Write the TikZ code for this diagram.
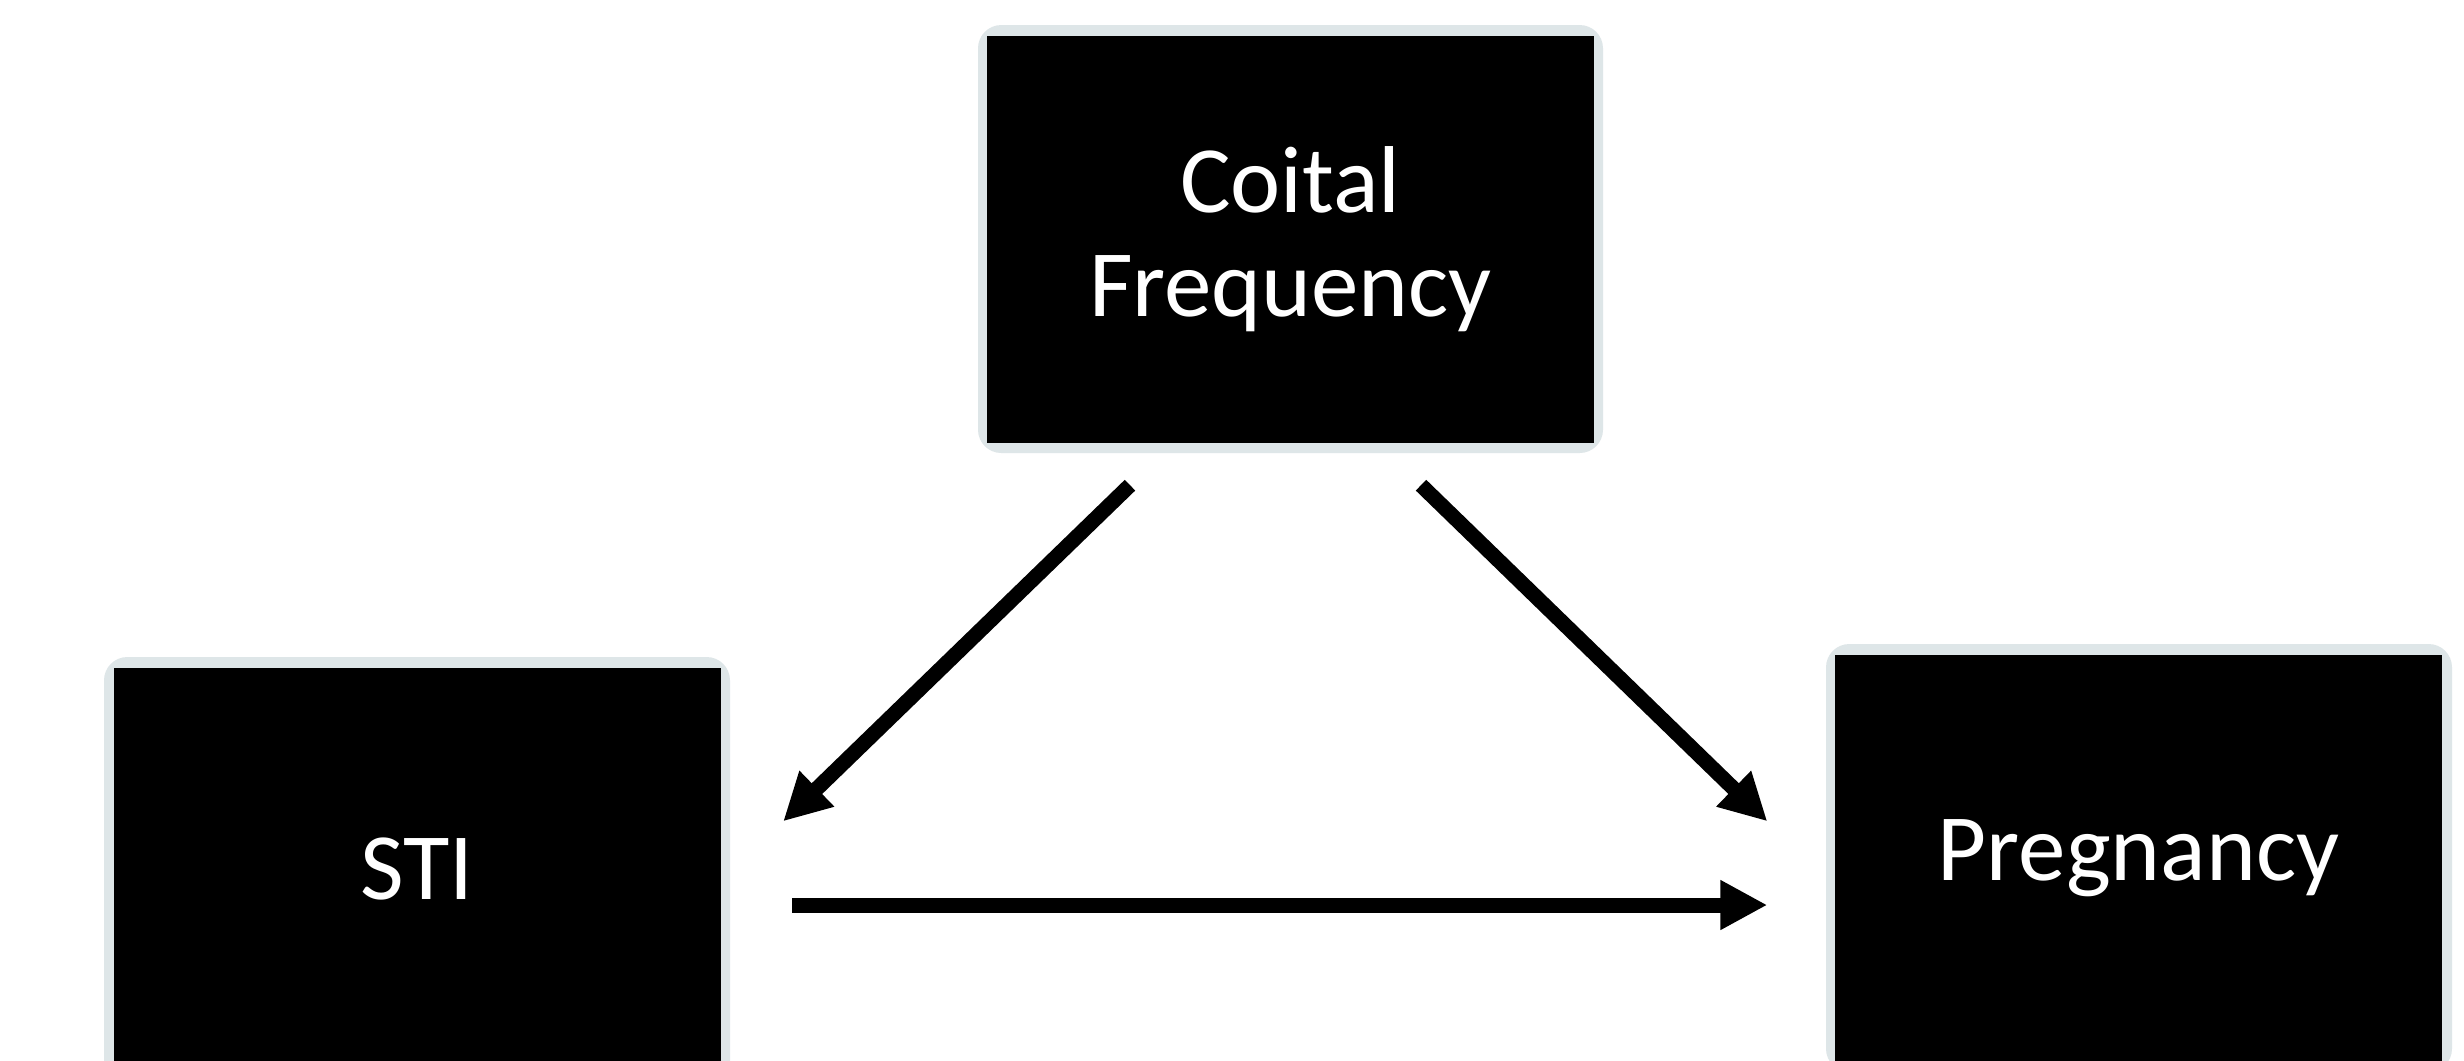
\documentclass[tikz,border=0pt]{standalone}
\usepackage{fontspec}
\setmainfont{Carlito}
\usetikzlibrary{arrows.meta,calc}
\definecolor{shadowgray}{RGB}{222,230,232}
\tikzset{
  boxnode/.style={rectangle, fill=black, text=white, inner sep=0pt,
    minimum width=182.1pt, minimum height=122.1pt, align=center,
    font=\fontsize{28.5}{31.2}\selectfont},
  halo/.style={fill=shadowgray, rounded corners=7pt},
  arr/.style={line width=4.5pt, -{Triangle[length=14.1pt,width=14pt]}}
}
\begin{document}
\begin{tikzpicture}[x=0.3pt,y=-0.3pt]
\clip (0,0) rectangle (2464,1060);
\fill[white] (0,0) rectangle (2464,1060);
% halos
\fill[halo] (978,25) rectangle (1603,453);
\fill[halo] (104,657) rectangle (730,1085);
\fill[halo] (1826,644) rectangle (2452,1072);
% boxes
\node[boxnode] (cf) at (1290.5,239.5) {Coital\\Frequency};
\node[boxnode] (sti) at (417,871.5) {\raisebox{1.8pt}{STI}};
\node[boxnode] (preg) at (2138.5,858.5) {Pregnancy};
% arrow ends
\coordinate (a1s) at ($(cf.south)+(-160.5*0.3pt,-41.5*0.3pt)$);
\coordinate (a1e) at ($(sti.north east)+(62*0.3pt,-154*0.3pt)$);
\coordinate (a2s) at ($(cf.south)+(130.5*0.3pt,-41.5*0.3pt)$);
\coordinate (a2e) at ($(preg.north west)+(-67*0.3pt,-167*0.3pt)$);
\coordinate (a3s) at ($(sti.east)+(71*0.3pt,-33.5*0.3pt)$);
\coordinate (a3e) at ($(preg.west)+(-67*0.3pt,-46.5*0.3pt)$);
\draw[arr] (a1s) -- (a1e);
\draw[arr] (a2s) -- (a2e);
\draw[arr] (a3s) -- (a3e);
\end{tikzpicture}
\end{document}
